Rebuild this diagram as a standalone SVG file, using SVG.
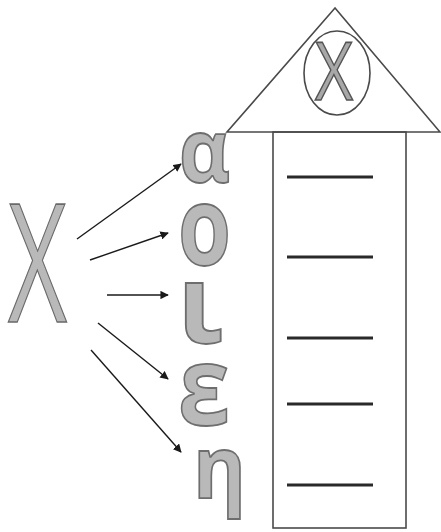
<svg xmlns="http://www.w3.org/2000/svg" width="441" height="532" viewBox="0 0 441 532">
<style>
.glyph{fill:#b9b9b9;stroke:#6e6e6e;stroke-width:1.8;font-family:"Open Sans","DejaVu Sans",sans-serif;font-weight:700;}
.big{fill:#b9b9b9;stroke:#6a6a6a;stroke-width:1.6;font-family:"Open Sans","DejaVu Sans",sans-serif;font-weight:400;}
.arrow{stroke:#1a1a1a;stroke-width:1.4;fill:none;marker-end:url(#ah);}
.rule{stroke:#2a2a2a;stroke-width:3;}
.frame{fill:none;stroke:#4a4a4a;stroke-width:1.6;}
</style>
<defs>
<marker id="ah" viewBox="0 0 10 10" refX="9" refY="5" markerWidth="6" markerHeight="6" orient="auto" markerUnits="strokeWidth">
<path d="M0,0 L10,5 L0,10 z" fill="#1a1a1a"/>
</marker>
</defs>
<rect width="441" height="532" fill="#ffffff"/>
<g id="source-x">
<text class="big" x="8" y="322" font-size="165" textLength="59" lengthAdjust="spacingAndGlyphs" style="font-weight:500">X</text>
</g>
<g id="house">
<polygon class="frame" points="335,8 227,132 440,132"/>
<rect class="frame" x="273" y="132" width="133" height="396"/>
<ellipse class="frame" cx="337" cy="73" rx="33" ry="42"/>
<text class="big" x="315" y="100" font-size="80" textLength="38" lengthAdjust="spacingAndGlyphs" style="stroke:#555;fill:#a8a8a8">X</text>
</g>
<g id="slots">
<line class="rule" x1="287" y1="177" x2="373" y2="177"/>
<line class="rule" x1="287" y1="257" x2="373" y2="257"/>
<line class="rule" x1="287" y1="338" x2="373" y2="338"/>
<line class="rule" x1="287" y1="404" x2="373" y2="404"/>
<line class="rule" x1="287" y1="485" x2="373" y2="485"/>
</g>
<g id="alpha"><text class="glyph" x="179" y="182" font-size="88" textLength="51" lengthAdjust="spacingAndGlyphs">α</text></g>
<g id="omicron"><text class="glyph" x="178" y="265" font-size="110" textLength="53" lengthAdjust="spacingAndGlyphs">ο</text></g>
<g id="iota"><text class="glyph" x="177" y="343" font-size="110" textLength="46" lengthAdjust="spacingAndGlyphs">ι</text></g>
<g id="epsilon"><text class="glyph" x="178" y="425" font-size="110" textLength="52" lengthAdjust="spacingAndGlyphs">ε</text></g>
<g id="eta"><text class="glyph" x="193" y="498" font-size="86" textLength="53" lengthAdjust="spacingAndGlyphs">η</text></g>
<g id="connectors">
<line class="arrow" x1="77" y1="239" x2="181" y2="164"/>
<line class="arrow" x1="90" y1="260" x2="168" y2="233"/>
<line class="arrow" x1="107" y1="295" x2="168" y2="295"/>
<line class="arrow" x1="98" y1="323" x2="168" y2="379"/>
<line class="arrow" x1="91" y1="350" x2="181" y2="452"/>
</g>
</svg>
